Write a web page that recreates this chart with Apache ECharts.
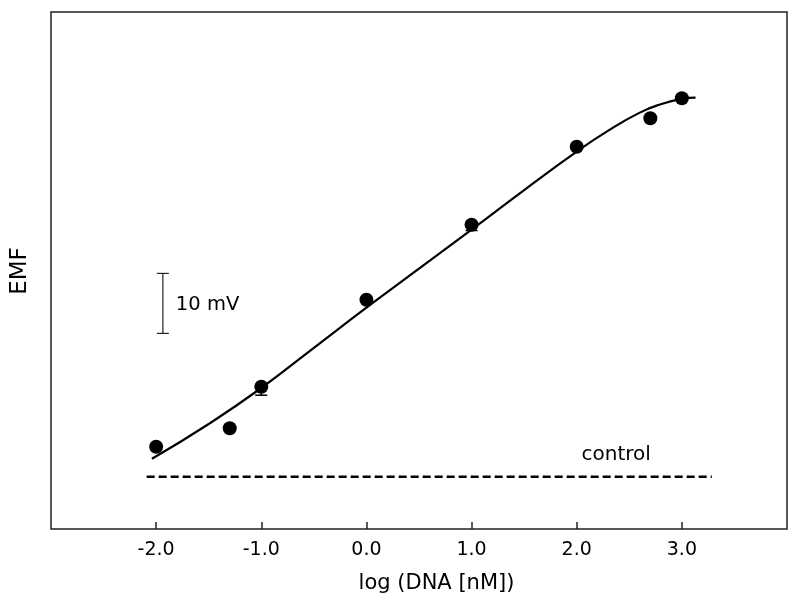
<!DOCTYPE html>
<html>
<head>
<meta charset="utf-8">
<script src="https://cdn.jsdelivr.net/npm/echarts@6/dist/echarts.min.js"></script>
<style>
html,body{margin:0;padding:0;background:#fff;}
#chart{width:800px;height:606px;}
</style>
</head>
<body>
<div id="chart"></div>
<script>
// ---- data (EMF in mV, relative scale) ----
var xTicks = [-2, -1, 0, 1, 2, 3];
var pointX = [-2.0, -1.3, -1.0, 0.0, 1.0, 2.0, 2.7, 3.0];
var pointY = [13.7, 16.8, 23.7, 38.2, 50.7, 63.7, 68.45, 71.8];
var pointErr = [0.5, 0.3, 1.4, 0.3, 0.95, 0.3, 0.3, 0.3];
var fitX = [-2.04, -1.5, -1.0, -0.5, 0.0, 0.5, 1.0, 1.5, 2.0, 2.3, 2.6, 2.8, 3.0, 3.13];
var fitY = [11.7, 17.5, 23.5, 30.2, 36.9, 43.4, 49.9, 56.5, 62.9, 66.4, 69.4, 70.8, 71.7, 71.9];
var controlX = [-2.09, 3.285];
var controlY = 8.7;
var controlLabelPos = [2.375, 12.3];
var scaleBarX = -1.936;
var scaleBarY = [32.6, 42.6];

var FONT = 'DejaVu Sans';
var chart = echarts.init(document.getElementById('chart'), null, {renderer: 'canvas'});

var points = pointX.map(function (x, i) { return [x, pointY[i]]; });
var errs = pointX.map(function (x, i) { return [x, pointY[i], pointY[i] - pointErr[i]]; });
var fit = fitX.map(function (x, i) { return [x, fitY[i]]; });
var control = controlX.map(function (x) { return [x, controlY]; });

var option = {
  animation: false,
  backgroundColor: '#fff',
  grid: {left: 51, right: 13, top: 12, bottom: 77, show: true, borderColor: '#222', borderWidth: 1.5, backgroundColor: 'transparent'},
  xAxis: {
    type: 'value', min: -3, max: 4,
    axisLine: {show: false},
    splitLine: {show: false},
    axisTick: {show: true, inside: true, length: 7, customValues: xTicks, lineStyle: {color: '#222', width: 1.5}},
    axisLabel: {customValues: xTicks, margin: 12, color: '#000', fontFamily: FONT, fontSize: 19,
      formatter: function (v) { return Number(v).toFixed(1); }}
  },
  yAxis: {
    type: 'value', min: 0, max: 86.17,
    axisLine: {show: false}, axisTick: {show: false}, axisLabel: {show: false}, splitLine: {show: false}
  },
  series: [
    {
      type: 'line', data: control, symbol: 'none', silent: true,
      lineStyle: {color: '#000', width: 2.5, type: [8, 4]}
    },
    {
      type: 'line', data: fit, symbol: 'none', smooth: true, silent: true,
      lineStyle: {color: '#000', width: 2.2}
    },
    {
      type: 'custom', data: errs, silent: true,
      renderItem: function (params, api) {
        var p0 = api.coord([api.value(0), api.value(1)]);
        var p1 = api.coord([api.value(0), api.value(2)]);
        var w = 6;
        return {type: 'group', children: [
          {type: 'line', shape: {x1: p0[0], y1: p0[1], x2: p1[0], y2: p1[1]}, style: {stroke: '#000', lineWidth: 1.5}},
          {type: 'line', shape: {x1: p1[0] - w, y1: p1[1], x2: p1[0] + w, y2: p1[1]}, style: {stroke: '#000', lineWidth: 1.5}}
        ]};
      },
      z: 3
    },
    {
      type: 'scatter', data: points, symbol: 'circle', symbolSize: 14,
      itemStyle: {color: '#000', opacity: 1}, z: 4
    },
    {
      type: 'custom', data: [[scaleBarX, scaleBarY[0], scaleBarY[1]]], silent: true,
      renderItem: function (params, api) {
        var a = api.coord([api.value(0), api.value(1)]);
        var b = api.coord([api.value(0), api.value(2)]);
        var w = 6;
        return {type: 'group', children: [
          {type: 'line', shape: {x1: a[0], y1: a[1], x2: b[0], y2: b[1]}, style: {stroke: '#222', lineWidth: 1.2}},
          {type: 'line', shape: {x1: a[0] - w, y1: a[1], x2: a[0] + w, y2: a[1]}, style: {stroke: '#222', lineWidth: 1.2}},
          {type: 'line', shape: {x1: b[0] - w, y1: b[1], x2: b[0] + w, y2: b[1]}, style: {stroke: '#222', lineWidth: 1.2}},
          {type: 'text', style: {x: a[0] + 13, y: (a[1] + b[1]) / 2 + 2, text: '10 mV', fill: '#000',
            font: '19.5px "DejaVu Sans"', textAlign: 'left', textVerticalAlign: 'middle'}}
        ]};
      }
    },
    {
      type: 'custom', data: [controlLabelPos], silent: true,
      renderItem: function (params, api) {
        var c = api.coord([api.value(0), api.value(1)]);
        return {type: 'text', style: {x: c[0], y: c[1], text: 'control', fill: '#000',
          font: '20px "DejaVu Sans"', textAlign: 'center', textVerticalAlign: 'middle'}};
      }
    }
  ],
  graphic: [
    {type: 'text', x: 436.5, y: 584, style: {text: 'log (DNA [nM])', fill: '#000', font: '21px "DejaVu Sans"', textAlign: 'center', textVerticalAlign: 'middle'}},
    {type: 'text', x: 20.5, y: 271, rotation: Math.PI / 2, style: {text: 'EMF', fill: '#000', font: '23px "DejaVu Sans"', textAlign: 'center', textVerticalAlign: 'middle'}}
  ]
};
chart.setOption(option);
</script>
</body>
</html>
